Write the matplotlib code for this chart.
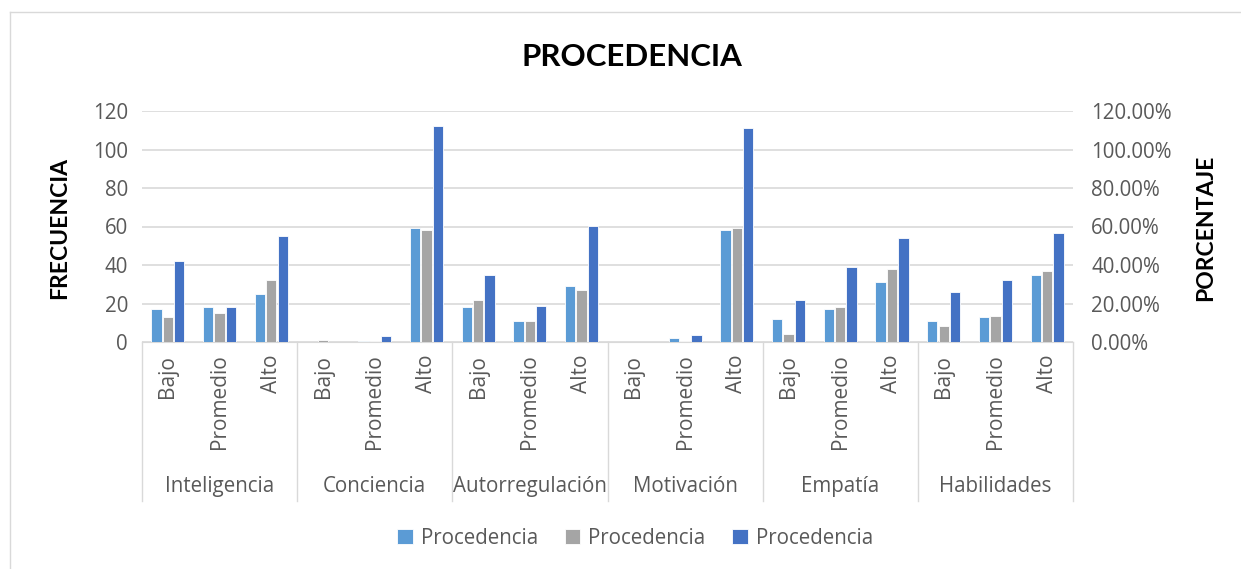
import matplotlib.pyplot as plt
import matplotlib.ticker as mticker
from matplotlib.lines import Line2D
import numpy as np

plt.rcParams['font.family'] = ['Open Sans', 'DejaVu Sans']

groups = ['Inteligencia', 'Conciencia', 'Autorregulación', 'Motivación', 'Empatía', 'Habilidades']
levels = ['Bajo', 'Promedio', 'Alto']
serie1 = [17, 18, 25, 0, 0.7, 59, 18, 11, 29, 0, 2, 58, 12, 17, 31, 11, 13, 35]
serie2 = [13, 15, 32, 1, 0.7, 58, 22, 11, 27, 0, 0.7, 59, 4, 18, 38, 8.5, 13.5, 37]
serie3 = [42, 18, 55, 0, 3, 112, 35, 18.5, 60.5, 0, 3.5, 111, 22, 39, 54, 26, 32, 56.5]
legend_labels = ['Procedencia', 'Procedencia', 'Procedencia']
colors = ['#5B9BD5', '#A5A5A5', '#4472C4']

fig = plt.figure(figsize=(12.41, 5.69), dpi=100)
ax = fig.add_axes([142 / 1241, 1 - 342 / 569, 931 / 1241, 231 / 569])

x = np.arange(len(serie1))
w = 0.2
for i, (vals, c, lab) in enumerate(zip([serie1, serie2, serie3], colors, legend_labels)):
    ax.bar(x + (i - 1) * 0.22, vals, w, color=c, edgecolor='white', linewidth=0.6, label=lab, zorder=3)

ax.set_xlim(-0.5, len(serie1) - 0.5)
ax.set_ylim(0, 120)
ax.set_yticks(range(0, 121, 20))
ax.yaxis.grid(True, color='#D9D9D9', linewidth=1.2, zorder=0)
for s in ['top', 'right', 'left']:
    ax.spines[s].set_visible(False)
ax.spines['bottom'].set_color('#D9D9D9')
ax.tick_params(axis='y', length=0, labelsize=14.8, labelcolor='#595959', pad=10)
ax.set_xticks([])

ax2 = ax.twinx()
ax2.set_ylim(0, 1.2)
ax2.set_yticks(np.arange(0, 1.21, 0.2))
ax2.yaxis.set_major_formatter(mticker.FuncFormatter(lambda v, p: f'{v * 100:.2f}%'))
ax2.tick_params(axis='y', length=0, labelsize=14.8, labelcolor='#595959', pad=13)
for s in ax2.spines.values():
    s.set_visible(False)

trans = ax.get_xaxis_transform()
for k in range(len(groups) + 1):
    ax.add_line(Line2D([k * 3 - 0.5] * 2, [0, -0.69], transform=trans, color='#D9D9D9',
                       linewidth=1, clip_on=False))
for i in range(len(serie1)):
    ax.text(i, -0.055, levels[i % 3], transform=trans, rotation=90, ha='center', va='top',
            fontsize=15, color='#595959')
for g, name in enumerate(groups):
    ax.text(g * 3 + 1, -0.625, name, transform=trans, ha='center', va='center',
            fontsize=14.8, color='#595959')

fig.text(632 / 1241, 1 - 57 / 569, 'PROCEDENCIA', ha='center', va='center',
         fontsize=22.5, fontweight='bold', color='black', family='Lato')
fig.text(60 / 1241, 1 - 228 / 569, 'FRECUENCIA', rotation=90, ha='center', va='center',
         fontsize=16.5, fontweight='bold', color='black', family='Lato')
fig.text(1206 / 1241, 1 - 228 / 569, 'PORCENTAJE', rotation=90, ha='center', va='center',
         fontsize=16.5, fontweight='bold', color='black', family='Lato')

h, l = ax.get_legend_handles_labels()
fig.legend(h, l, loc='center', bbox_to_anchor=(635 / 1241, 1 - 538 / 569), ncol=3,
           frameon=False, fontsize=14.8, labelcolor='#595959', handlelength=0.75,
           handleheight=0.75, handletextpad=0.4, columnspacing=1.3)

fig.add_artist(Line2D([10 / 1241, 1], [1 - 12 / 569] * 2, transform=fig.transFigure,
                      color='#D9D9D9', linewidth=1))
fig.add_artist(Line2D([10 / 1241] * 2, [0, 1 - 12 / 569], transform=fig.transFigure,
                      color='#D9D9D9', linewidth=1))

fig.savefig('out.png', dpi=100)
